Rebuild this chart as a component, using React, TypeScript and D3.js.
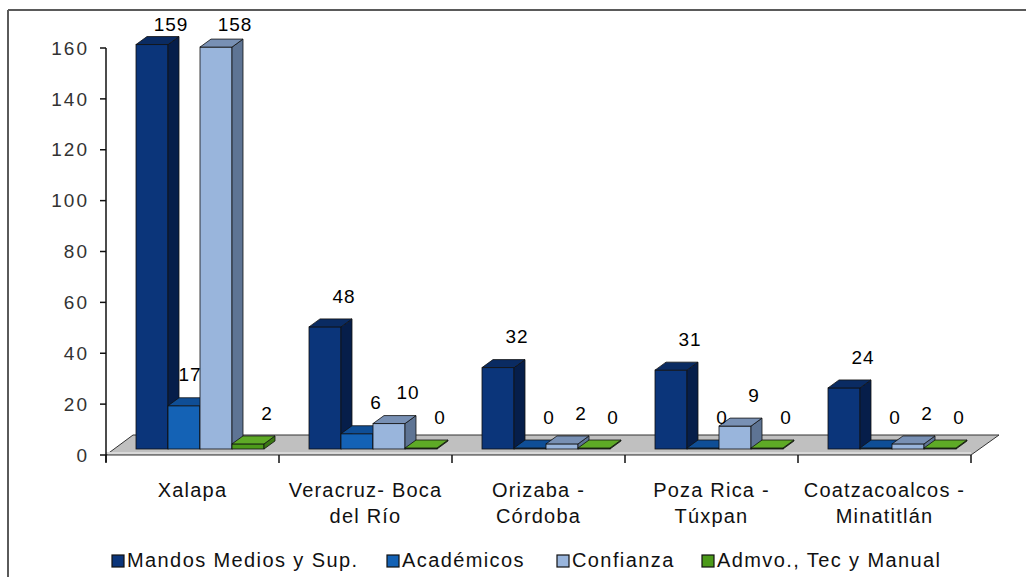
import React from "react";
import * as d3 from "d3";

const categories = [
  ["Xalapa"],
  ["Veracruz- Boca", "del Río"],
  ["Orizaba -", "Córdoba"],
  ["Poza Rica -", "Túxpan"],
  ["Coatzacoalcos -", "Minatitlán"],
];
const seriesNames = ["Mandos Medios y Sup.", "Académicos", "Confianza", "Admvo., Tec y Manual"];
const mandos = [159, 48, 32, 31, 24];
const academicos = [17, 6, 0, 0, 0];
const confianza = [158, 10, 2, 9, 2];
const admvo = [2, 0, 0, 0, 0];
const yTicks = [0, 20, 40, 60, 80, 100, 120, 140, 160];

const seriesValues = [mandos, academicos, confianza, admvo];
const faceColors = [
  { front: "#0B357A", side: "#061E4A", top: "#0A2B62" },
  { front: "#1462B5", side: "#0B3E7A", top: "#0F4E96" },
  { front: "#99B5DC", side: "#5E7494", top: "#7890B4" },
  { front: "#4C9A1A", side: "#3A7812", top: "#5EAA26" },
];
const legendX = [112, 387, 557, 702];

const W = 1026, H = 577;
const plotL = 106, plotR = 971;
const axisTop = 48, axisBottom = 455;
const barBase = 449;
const floorDX = 28, floorDY = 20;
const barDX = 11, barDY = 8;
const FONT = "'Liberation Sans', Arial, sans-serif";

export default function App() {
  const catKeys = categories.map((c) => c.join(" "));
  const x = d3.scaleBand<string>().domain(catKeys).range([plotL, plotR]).paddingInner(0).paddingOuter(0);
  const inner = d3.scaleBand<string>().domain(seriesNames).range([30, 30 + 128]);
  const yAxis = d3.scaleLinear().domain([0, 160]).range([axisBottom, axisTop]);
  const yBar = d3.scaleLinear().domain([0, 160]).range([barBase, barBase - (axisBottom - axisTop)]);

  const floor = [
    [plotL, axisBottom],
    [plotR, axisBottom],
    [plotR + floorDX, axisBottom - floorDY],
    [plotL + floorDX - 1, axisBottom - floorDY],
  ];

  const bars: React.ReactNode[] = [];
  const labels: React.ReactNode[] = [];
  catKeys.forEach((ck, ci) => {
    seriesNames.forEach((sn, si) => {
      const v = seriesValues[si][ci];
      const x0 = (x(ck) as number) + (inner(sn) as number);
      const x1 = x0 + inner.bandwidth();
      let yt = yBar(v);
      if (barBase - yt < 1) yt = barBase - 1;
      const c = faceColors[si];
      const side = `${x1},${yt} ${x1 + barDX},${yt - barDY} ${x1 + barDX},${barBase - barDY} ${x1},${barBase}`;
      const top = `${x0},${yt} ${x0 + barDX},${yt - barDY} ${x1 + barDX},${yt - barDY} ${x1},${yt}`;
      let lx = (x0 + x1) / 2 + 19;
      const ly = Math.max(24, yt - 31);
      // if the next bar in the group rises above the label, shift the label left of it
      if (si < seriesNames.length - 1) {
        const nv = seriesValues[si + 1][ci];
        if (yBar(nv) < ly) lx = Math.min(lx, x1 - 10);
      }
      bars.push(
        <g key={`${ci}-${si}`}>
          <rect x={x0} y={yt} width={x1 - x0} height={barBase - yt} fill={c.front} stroke="#111" strokeWidth={0.8} />
          <polygon points={side} fill={c.side} stroke="#111" strokeWidth={0.8} />
          <polygon points={top} fill={c.top} stroke="#111" strokeWidth={0.8} />
        </g>
      );
      labels.push(
        <text key={`l${ci}-${si}`} x={lx} y={ly} dy="0.35em" textAnchor="middle" fontSize={19} letterSpacing={1} fill="#000" fontFamily={FONT}>
          {v}
        </text>
      );
    });
  });

  return (
    <div style={{ position: "absolute", left: 0, top: 0 }}>
      <svg width={W} height={H} style={{ display: "block", background: "#fff" }}>
        {/* frame */}
        <line x1={8} y1={10} x2={W} y2={10} stroke="#5a5a5a" strokeWidth={2} />
        <line x1={8} y1={10} x2={8} y2={H} stroke="#5a5a5a" strokeWidth={2} />

        {/* floor */}
        <polygon points={floor.map((p) => p.join(",")).join(" ")} fill="#C0C0C0" stroke="#333" strokeWidth={1} />
        <line x1={plotL} y1={axisBottom - 2} x2={plotR} y2={axisBottom - 2} stroke="#d9d9d9" strokeWidth={2} />

        {/* y axis */}
        <line x1={plotL} y1={axisTop} x2={plotL} y2={axisBottom + 7} stroke="#111" strokeWidth={1.5} />
        {yTicks.map((t) => (
          <g key={t}>
            <line x1={plotL - 6} x2={plotL} y1={yAxis(t)} y2={yAxis(t)} stroke="#111" strokeWidth={1.5} />
            <text x={89} y={yAxis(t)} dy="0.35em" textAnchor="end" fontSize={19} letterSpacing={2} fill="#333" fontFamily={FONT}>
              {t}
            </text>
          </g>
        ))}

        {/* category ticks */}
        {[...catKeys.map((k) => x(k) as number), plotR].map((tx, i) => (
          <line key={i} x1={tx} x2={tx} y1={axisBottom} y2={axisBottom + 8} stroke="#111" strokeWidth={1.5} />
        ))}

        {bars}
        {labels}

        {/* category labels */}
        {categories.map((lines, ci) => (
          <text key={ci} textAnchor="middle" fontSize={20} letterSpacing={1.2} fill="#111" fontFamily={FONT}>
            {lines.map((ln, li) => (
              <tspan key={li} x={(x(catKeys[ci]) as number) + x.bandwidth() / 2} y={497 + li * 26}>
                {ln}
              </tspan>
            ))}
          </text>
        ))}

        {/* legend */}
        {seriesNames.map((sn, si) => (
          <g key={sn}>
            <rect x={legendX[si]} y={555} width={12} height={12} fill={faceColors[si].front} stroke="#111" strokeWidth={1.2} />
            <text x={legendX[si] + 15} y={567} fontSize={20} letterSpacing={1.4} fill="#111" fontFamily={FONT}>
              {sn}
            </text>
          </g>
        ))}
      </svg>
    </div>
  );
}
